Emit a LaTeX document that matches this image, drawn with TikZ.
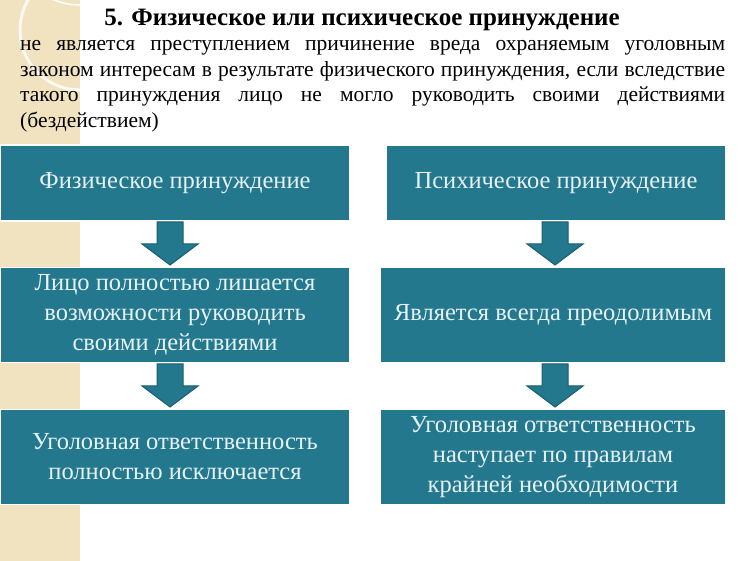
\documentclass[tikz,border=0pt]{standalone}
\usepackage{fontspec}
\setmainfont{Liberation Serif}
\begin{document}
\begin{tikzpicture}[x=1pt,y=-1pt,
  box/.style={draw=white,line width=1.2pt,fill=teal0,text=boxtext,font=\fontsize{24.5}{30}\selectfont,align=center,inner sep=0pt},
  arr/.style={fill=teal0,draw=teal1,line width=1pt}]
\definecolor{teal0}{HTML}{23788D}
\definecolor{teal1}{HTML}{1A5F70}
\definecolor{boxtext}{HTML}{E6F2F6}
\definecolor{beige}{HTML}{F1E2C0}
\useasboundingbox (0,0) rectangle (750,561);
\fill[white] (0,0) rectangle (750,561);
\fill[beige] (0,0) rectangle (80,561);
\draw[white,line width=1.5pt] (80,5) arc[start angle=90,end angle=270,radius=70];
\draw[white!80!beige,line width=3pt] (80,90) arc[start angle=90,end angle=270,radius=60];
\fill[white] (80,0) rectangle (750,561);
\node[font=\bfseries\fontsize{25}{30}\selectfont,anchor=center] (title) at (362,20) {5. Физическое или психическое принуждение};
\node[anchor=north west,text width=705pt,align=justify,font=\fontsize{21.5}{25.7}\selectfont,inner sep=0pt] (para) at (20,40) {не является преступлением причинение вреда охраняемым уголовным законом интересам в результате физического принуждения, если вследствие такого принуждения лицо не могло руководить своими действиями (бездействием)};
\node[box,minimum width=350pt,minimum height=76pt] (a1) at (175,183) {Физическое принуждение};
\node[box,minimum width=340pt,minimum height=76pt] (b1) at (556,183) {Психическое принуждение};
\node[box,minimum width=350pt,minimum height=95pt] (a2) at (175,315) {Лицо полностью лишается\\возможности руководить\\своими действиями};
\node[box,minimum width=346pt,minimum height=95pt] (b2) at (553,315) {Является всегда преодолимым};
\node[box,minimum width=350pt,minimum height=95pt] (a3) at (175,457) {Уголовная ответственность\\полностью исключается};
\node[box,minimum width=346pt,minimum height=95pt] (b3) at (553,457) {Уголовная ответственность\\наступает по правилам\\крайней необходимости};
\foreach \n/\x/\y in {aa/170/222,bb/555/222,cc/170/364,dd/555/364}{
  \draw[arr] (\x-13,\y) -- (\x+13,\y) -- (\x+13,\y+22) -- (\x+28,\y+22) -- (\x,\y+43) -- (\x-28,\y+22) -- (\x-13,\y+22) -- cycle;
}
\end{tikzpicture}
\end{document}
